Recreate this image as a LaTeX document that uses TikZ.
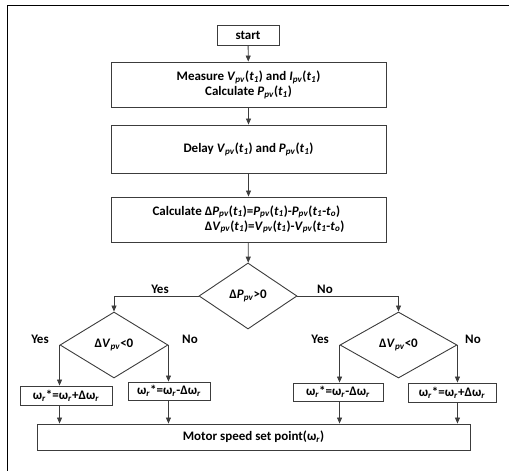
\documentclass[tikz,border=0pt]{standalone}
\usepackage{fontspec}
\setmainfont{Carlito}
\usetikzlibrary{arrows.meta, shapes.geometric}
\definecolor{lineGray}{RGB}{60,60,60}
\newcommand{\sv}[2]{\textit{#1}\textsubscript{\textit{#2}}}

\begin{document}
\begin{tikzpicture}[x=1pt, y=-1pt, font=\fontsize{13}{15}\selectfont\bfseries,
  box/.style={draw=lineGray, line width=0.9pt, inner sep=1pt, align=center},
  dec/.style={draw=lineGray, line width=0.9pt, diamond, aspect=1.6, inner sep=0pt},
  lbl/.style={inner sep=0pt},
  arr/.style={-{Triangle[length=6pt, width=5pt]}, line width=0.8pt, lineGray}]
  \useasboundingbox (0,0) rectangle (509,471);
  \draw[line width=0.9pt] (7,471) -- (7,5) -- (509,5);
  % main column
  \node[box, minimum width=62pt, minimum height=20pt]   (start) at (248,35) {start};
  \node[box, minimum width=275pt, minimum height=45pt]  (meas)  at (248.5,84.5)
    {Measure \sv{V}{pv}(\textit{t}\textsubscript{\textit{1}}) and \sv{I}{pv}(\textit{t}\textsubscript{\textit{1}})\\
     Calculate \sv{P}{pv}(\textit{t}\textsubscript{\textit{1}})};
  \node[box, minimum width=275pt, minimum height=48pt]  (delay) at (248.5,149)
    {Delay \sv{V}{pv}(\textit{t}\textsubscript{\textit{1}}) and \sv{P}{pv}(\textit{t}\textsubscript{\textit{1}})};
  \node[box, minimum width=275pt, minimum height=45pt]  (calc)  at (248.5,219.5)
    {\begin{tabular}{@{}r@{}l@{}}
     Calculate\ \null & Δ\sv{P}{pv}(\textit{t}\textsubscript{\textit{1}})=\sv{P}{pv}(\textit{t}\textsubscript{\textit{1}})-\sv{P}{pv}(\textit{t}\textsubscript{\textit{1}}-\textit{t}\textsubscript{\textit{o}})\\
     & Δ\sv{V}{pv}(\textit{t}\textsubscript{\textit{1}})=\sv{V}{pv}(\textit{t}\textsubscript{\textit{1}})-\sv{V}{pv}(\textit{t}\textsubscript{\textit{1}}-\textit{t}\textsubscript{\textit{o}})
     \end{tabular}};
  \node[dec, minimum width=98pt, minimum height=66pt]   (dp)  at (248,296) {Δ\sv{P}{pv}>0};
  \node[dec, minimum width=108pt, minimum height=66pt]  (dvl) at (114,345) {Δ\sv{V}{pv}<0};
  \node[dec, minimum width=117pt, minimum height=66pt]  (dvr) at (398.5,345) {Δ\sv{V}{pv}<0};
  % speed updates
  \node[box, minimum width=92pt, minimum height=19pt] (inc1) at (66,395.5) {ω\textsubscript{\textit{r}}*=ω\textsubscript{\textit{r}}+Δω\textsubscript{\textit{r}}};
  \node[box, minimum width=82pt, minimum height=18pt] (dec1) at (169,391) {ω\textsubscript{\textit{r}}*=ω\textsubscript{\textit{r}}-Δω\textsubscript{\textit{r}}};
  \node[box, minimum width=90pt, minimum height=18pt] (dec2) at (338,392) {ω\textsubscript{\textit{r}}*=ω\textsubscript{\textit{r}}-Δω\textsubscript{\textit{r}}};
  \node[box, minimum width=88pt, minimum height=19pt] (inc2) at (452,392.5) {ω\textsubscript{\textit{r}}*=ω\textsubscript{\textit{r}}+Δω\textsubscript{\textit{r}}};
  \node[box, minimum width=433pt, minimum height=26pt] (motor) at (253.5,437) {Motor speed set point(ω\textsubscript{\textit{r}})};
  % branch labels
  \node[lbl] (ypl) at (160,289) {Yes};
  \node[lbl] (npl) at (325,289) {No};
  \node[lbl] (yl)  at (40,339)  {Yes};
  \node[lbl] (nl)  at (190,339) {No};
  \node[lbl] (yr)  at (320,339) {Yes};
  \node[lbl] (nr)  at (473,339) {No};
  % connectors
  \draw[arr] (start) -- (meas);
  \draw[arr] (meas) -- (delay);
  \draw[arr] (delay) -- (calc);
  \draw[arr] (calc) -- (dp);
  \draw[arr] (dp.west) -- (dvl.north |- dp.west) -- (dvl.north);
  \draw[arr] (dp.east) -- (dvr.north |- dp.east) -- (dvr.north);
  \draw[arr] (dvl.west) -- (dvl.west |- inc1.north);
  \draw[arr] (dvl.east) -- (dvl.east |- dec1.north);
  \draw[arr] (dvr.west) -- (dvr.west |- dec2.north);
  \draw[arr] (dvr.east) -- (dvr.east |- inc2.north);
  \draw[arr] (dvl.west |- inc1.south) -- (dvl.west |- motor.north);
  \draw[arr] (dvl.east |- dec1.south) -- (dvl.east |- motor.north);
  \draw[arr] (dvr.west |- dec2.south) -- (dvr.west |- motor.north);
  \draw[arr] (dvr.east |- inc2.south) -- (dvr.east |- motor.north);
\end{tikzpicture}
\end{document}
